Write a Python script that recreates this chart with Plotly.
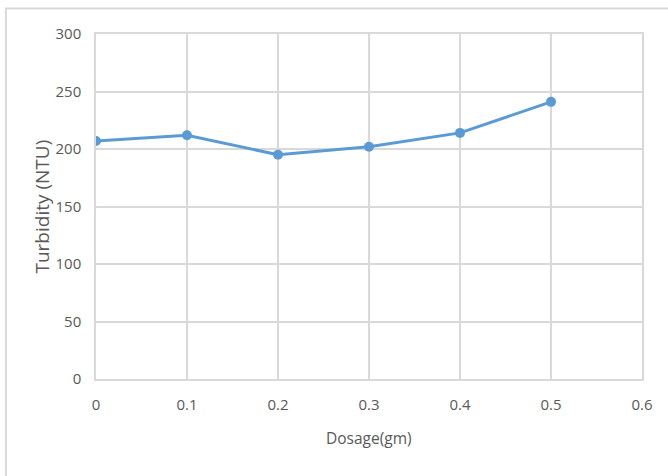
import plotly.graph_objects as go

# Turbidity measured at each coagulant dosage
dosage = [0, 0.1, 0.2, 0.3, 0.4, 0.5]
turbidity = [207, 212, 195, 202, 214, 241]

x_ticks = [0, 0.1, 0.2, 0.3, 0.4, 0.5, 0.6]
x_tick_text = ["0", "0.1", "0.2", "0.3", "0.4", "0.5", "0.6"]
y_ticks = [0, 50, 100, 150, 200, 250, 300]

x_title = "Dosage(gm)"
y_title = "Turbidity (NTU)"

line_color = "#5b9bd5"
grid_color = "#d9d9d9"
text_color = "#595959"
font_family = "Open Sans, Noto Sans, sans-serif"

fig = go.Figure()
fig.add_trace(go.Scatter(
    x=dosage,
    y=turbidity,
    mode="lines+markers",
    line=dict(color=line_color, width=3),
    marker=dict(color=line_color, size=10),
    showlegend=False,
))

axis_style = dict(
    showgrid=True,
    gridcolor=grid_color,
    gridwidth=1.5,
    zeroline=False,
    showline=True,
    linecolor=grid_color,
    linewidth=1.5,
    mirror=True,
    ticks="",
    tickfont=dict(size=15, color=text_color),
)

fig.update_layout(
    width=668,
    height=476,
    margin=dict(l=96, r=26, t=34, b=97),
    paper_bgcolor="white",
    plot_bgcolor="white",
    font=dict(family=font_family, color=text_color, size=12),
    xaxis=dict(range=[0, 0.6], tickvals=x_ticks, ticktext=x_tick_text,
               ticklabelstandoff=11, **axis_style),
    yaxis=dict(range=[0, 300], tickvals=y_ticks, ticklabelstandoff=10, **axis_style),
    annotations=[
        dict(
            text=x_title, xref="paper", yref="paper", x=0.5, y=-0.17,
            xanchor="center", yanchor="middle", showarrow=False,
            font=dict(size=15.5, color=text_color),
        ),
        dict(
            text=y_title, xref="paper", yref="paper", x=-0.1007, y=0.5,
            xanchor="center", yanchor="middle", textangle=-90, showarrow=False,
            font=dict(size=19, color=text_color),
        ),
    ],
    shapes=[
        dict(
            type="rect",
            xref="paper",
            yref="paper",
            x0=-0.165,
            x1=1.2,
            y0=-0.5,
            y1=1.074,
            line=dict(color=grid_color, width=2),
            fillcolor="rgba(0,0,0,0)",
            layer="below",
        )
    ],
)

fig.write_html("out.html")
